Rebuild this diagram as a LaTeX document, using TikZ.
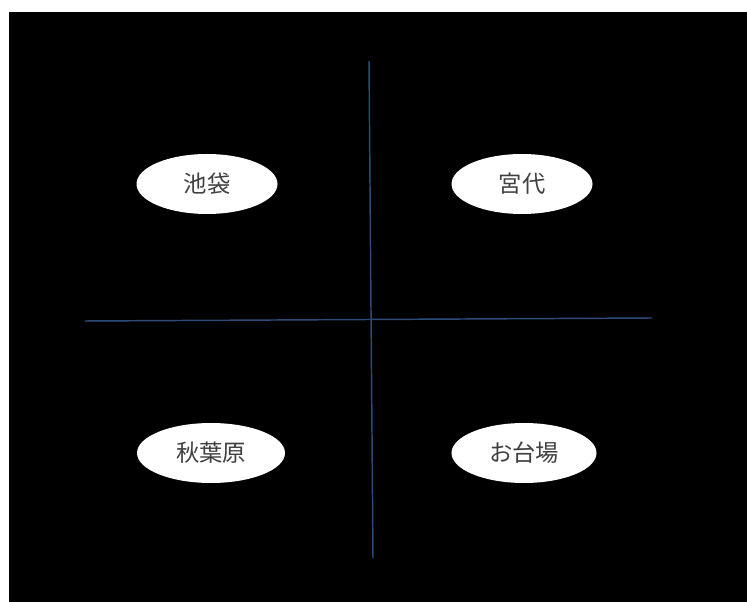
\documentclass[tikz,border=0pt]{standalone}
\usepackage{fontspec}
\newfontfamily\cjk{Noto Sans CJK JP}
\usetikzlibrary{shapes.geometric}
\definecolor{axisblue}{HTML}{2E4A78}
\definecolor{txtgray}{HTML}{404040}
\tikzset{
  place/.style={ellipse, fill=white, draw=none, minimum width=#1*0.75pt, minimum height=60*0.75pt, inner sep=0pt, font=\cjk\fontsize{17.5}{20}\selectfont, text=txtgray},
  axis/.style={draw=axisblue, line width=1.1pt}
}
\begin{document}
\begin{tikzpicture}[x=0.75pt,y=-0.75pt]
\useasboundingbox (0,0) rectangle (747,602);
\fill[white] (0,0) rectangle (747,602);
\fill[black] (9,12) rectangle (747,602);
\coordinate (vt) at (369,61);
\coordinate (vb) at (373,558);
\coordinate (hl) at (85,321);
\coordinate (hr) at (652,318);
\draw[axis] (vt) -- (vb);
\draw[axis] (hl) -- (hr);
\node[place=141] (ikebukuro) at (207,184) {池袋};
\node[place=141] (miyashiro) at (522,184) {宮代};
\node[place=148] (akihabara) at (211,453) {秋葉原};
\node[place=145] (odaiba) at (524,453) {お台場};
\end{tikzpicture}
\end{document}
